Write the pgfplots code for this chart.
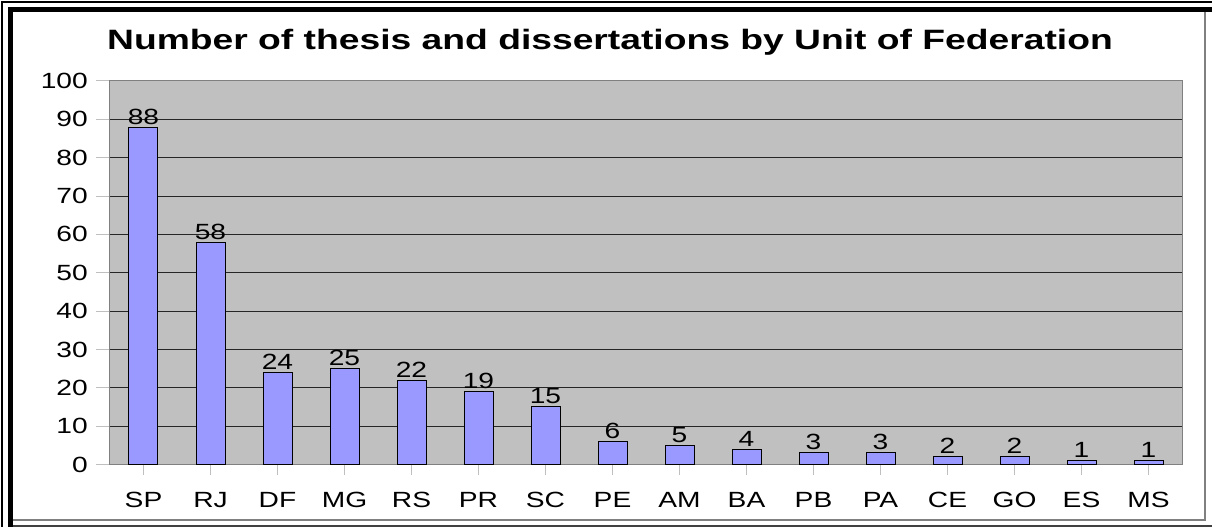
\documentclass[border=0pt]{standalone}
\usepackage{fontspec}
\setmainfont{Liberation Sans}
\usepackage{graphicx}
\usepackage{pgfplots}
\pgfplotsset{compat=1.18}
\definecolor{plotbg}{RGB}{192,192,192}
\definecolor{barfill}{RGB}{153,153,255}
\newcommand\wide[1]{\scalebox{1.28}[1]{#1}}
\begin{document}
\begin{tikzpicture}
\useasboundingbox (-110pt,-62.5pt) rectangle (1102pt,464.5pt);
\fill[white] (-110pt,-62.5pt) rectangle (1102pt,464.5pt);
\begin{axis}[
  at={(0pt,0pt)}, anchor=south west,
  scale only axis,
  width=1072pt, height=383.5pt,
  xmin=-0.5, xmax=15.5,
  ymin=0, ymax=100,
  ytick={0,10,...,100},
  xtick={0,...,15},
  tick pos=left,
  /pgf/number format/assume math mode=true,
  xticklabels={\wide{SP},\wide{RJ},\wide{DF},\wide{MG},\wide{RS},\wide{PR},\wide{SC},\wide{PE},\wide{AM},\wide{BA},\wide{PB},\wide{PA},\wide{CE},\wide{GO},\wide{ES},\wide{MS}},
  yticklabel={\wide{\pgfmathprintnumber{\tick}}},
  axis background/.style={fill=plotbg},
  axis line style={draw=gray, line width=1pt},
  ymajorgrids,
  major grid style={draw=black!85, line width=1pt},
  tick align=outside,
  major tick length=14pt,
  tick style={draw=gray!50, line width=1pt},
  xtick style={/pgfplots/major tick length=10pt},
  ticklabel style={font=\fontsize{22}{24}\selectfont},
  yticklabel style={inner sep=0pt, xshift=-8pt},
  xticklabel style={inner sep=0pt, text height=16pt, text depth=0pt, yshift=-13pt, font=\fontsize{22}{24}\selectfont},
  ybar, bar width=29pt,
  nodes near coords={\wide{\pgfmathprintnumber{\pgfplotspointmeta}}},
  every node near coord/.append style={font=\fontsize{22}{24}\selectfont, anchor=base, inner sep=0pt, yshift=3pt},
]
\addplot[fill=barfill, draw=black, line width=1pt] coordinates {
(0,88) (1,58) (2,24) (3,25) (4,22) (5,19) (6,15) (7,6)
(8,5) (9,4) (10,3) (11,3) (12,2) (13,2) (14,1) (15,1)};
\end{axis}
\node[anchor=base, inner sep=0pt, font=\bfseries\fontsize{28}{30}\selectfont] at (500pt,414.5pt) {\scalebox{1.33}[1]{Number of thesis and dissertations by Unit of Federation}};
% frame
\draw[black, line width=1.5pt] (-108pt,-62.5pt) -- (-108pt,462.5pt) -- (1102pt,462.5pt);
\draw[black, line width=5pt] (-99.5pt,-62.5pt) -- (-99.5pt,455pt) -- (1102pt,455pt);
\draw[gray, line width=2pt] (-97pt,-55.5pt) -- (1095pt,-55.5pt) -- (1095pt,452.5pt);
\draw[black!75, line width=1.5pt] (-97pt,-61.5pt) -- (1102pt,-61.5pt);
\end{tikzpicture}
\end{document}
